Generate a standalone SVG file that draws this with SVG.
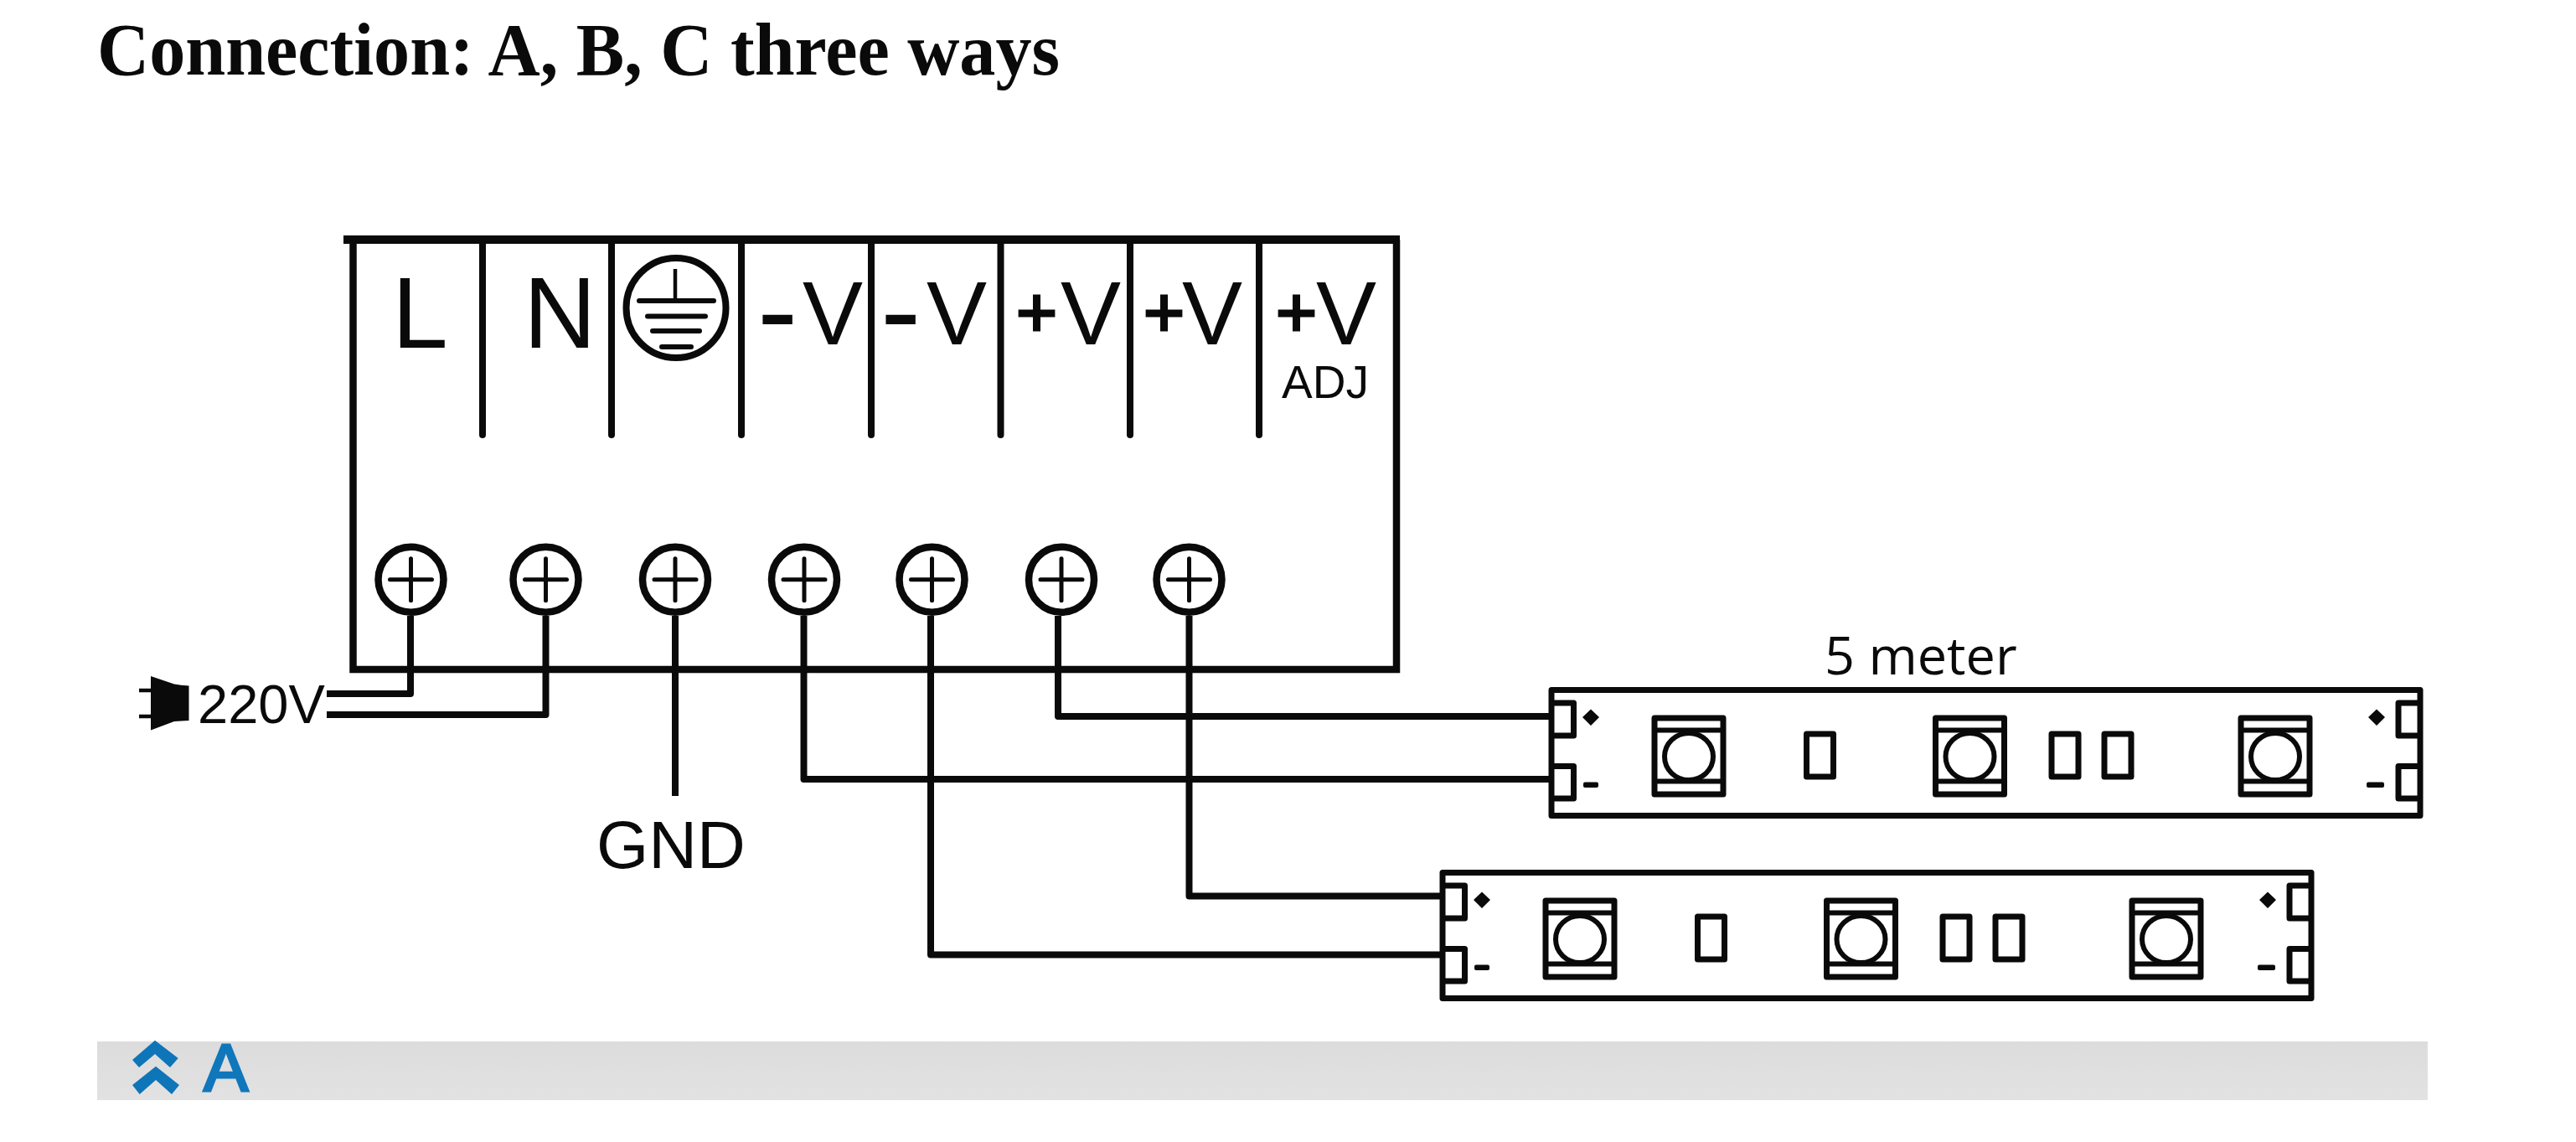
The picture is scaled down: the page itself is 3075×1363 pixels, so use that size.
<svg xmlns="http://www.w3.org/2000/svg" width="3075" height="1363" viewBox="0 0 3075 1363">
<style>
.t{font-family:"Liberation Sans",Arial,sans-serif;fill:#0a0a0a}
.w{fill:none;stroke:#0a0a0a;stroke-width:8;stroke-linejoin:round}
.d{stroke:#0a0a0a;stroke-width:8;stroke-linecap:round}
.o{fill:none;stroke:#0a0a0a;stroke-width:7;stroke-linejoin:round}
.l{fill:none;stroke:#0a0a0a;stroke-width:6;stroke-linejoin:round}
.k{fill:#0a0a0a}
.p{fill:#0a0a0a;stroke:#0a0a0a;stroke-width:3}
.s{fill:#fff;stroke:#0a0a0a;stroke-width:8.500}
.c{stroke:#0a0a0a;stroke-width:5;stroke-linecap:round}
.e{stroke:#0a0a0a;stroke-width:6;stroke-linecap:round}
</style>
<defs>
<g id="screw"><circle class="s" r="39"/><path class="c" d="M-25 0H25M0-25V25"/></g>
<g id="led"><rect class="o" x="-41" y="-46" width="82" height="91"/><path class="l" d="M-41-31.500H41M-41 29.500H41"/><ellipse class="l" cx="0" cy="0" rx="29" ry="28"/></g>
<g id="strip">
<rect class="o" x="1852" y="823.500" width="1037" height="150"/>
<path class="o" d="M1852 839H1878.500V878H1852M1852 914.500H1878.500V953H1852M2889 839H2863V878H2889M2889 914.500H2863V953H2889"/>
<path class="k" d="M1899 846.500L1909 856L1899 866L1889 856ZM2837 846.500L2847 856L2837 866L2827 856Z"/>
<rect class="k" x="1890" y="933.500" width="18" height="6.500" rx="2"/><rect class="k" x="2825" y="933.500" width="21" height="6.500" rx="2"/>
<use href="#led" x="2016" y="903"/><use href="#led" x="2351.500" y="903"/><use href="#led" x="2716" y="903"/>
<rect class="o" x="2156.500" y="876" width="32" height="51"/><rect class="o" x="2449" y="876" width="32" height="51"/><rect class="o" x="2512" y="876" width="32" height="51"/>
</g>
<linearGradient id="bar" x1="0" y1="0" x2="0" y2="1"><stop offset="0" stop-color="#dcdcdc"/><stop offset="1" stop-color="#e2e2e2"/></linearGradient>
</defs>
<rect width="3075" height="1363" fill="#fff"/>
<text id="title" x="116" y="89" font-family="'Liberation Serif','Times New Roman',serif" font-weight="700" font-size="89" textLength="1149" lengthAdjust="spacingAndGlyphs" fill="#0a0a0a">Connection: A, B, C three ways</text>
<g id="connectors">
<path class="w" d="M490 735V828H390"/>
<path class="w" d="M651.500 735V853H390"/>
<path class="w" d="M806 735V950"/>
<path class="w" d="M959.500 735V930H1852"/>
<path class="w" d="M1263 735V855H1852"/>
<path class="w" d="M1111 735V1139.500H1722"/>
<path class="w" d="M1419.500 735V1069.500H1722"/>
</g>
<g id="power-supply">
<path fill="none" stroke="#0a0a0a" stroke-width="8.500" d="M421.500 286V799H1667V286"/>
<path stroke="#0a0a0a" stroke-width="10" d="M410 286H1671"/>
<path class="d" d="M576 286V519M730 286V519M885 286V519M1040 286V519M1194.500 286V519M1349 286V519M1503 286V519"/>
<text class="t" x="468" y="415" font-size="120">L</text>
<text class="t" x="625" y="415" font-size="120">N</text>
<g id="earth"><circle fill="none" stroke="#0a0a0a" stroke-width="8" cx="807" cy="367.500" r="59.500"/><path stroke="#0a0a0a" stroke-width="4.500" d="M806 321V356"/><path class="e" d="M763 359H852M773 377.500H842M779 395H835M790 414H825"/></g>
<text class="t" y="411" font-size="108"><tspan x="904" y="420" font-size="145">-</tspan><tspan x="958" y="411">V</tspan></text>
<text class="t" y="411" font-size="108"><tspan x="1051" y="420" font-size="145">-</tspan><tspan x="1106" y="411">V</tspan></text>
<text class="t" y="411" font-size="108"><tspan class="p" x="1213" y="401" font-size="84">+</tspan><tspan x="1266" y="411">V</tspan></text>
<text class="t" y="411" font-size="108"><tspan class="p" x="1365" y="401" font-size="84">+</tspan><tspan x="1411" y="411">V</tspan></text>
<text class="t" y="411" font-size="108"><tspan class="p" x="1523" y="401" font-size="84">+</tspan><tspan x="1571" y="411">V</tspan></text>
<text class="t" x="1530" y="475" font-size="55">ADJ</text>
<use href="#screw" x="490.500" y="691.700"/><use href="#screw" x="651.500" y="691.700"/><use href="#screw" x="806" y="691.700"/><use href="#screw" x="960" y="691.700"/><use href="#screw" x="1112.500" y="691.700"/><use href="#screw" x="1267" y="691.700"/><use href="#screw" x="1419.500" y="691.700"/>
</g>
<g id="plug">
<path class="k" d="M180 807L208 816.500Q216 818 225.500 818.500V860Q216 860.500 208 861L180 871.500Z"/>
<path stroke="#0a0a0a" stroke-width="4.500" d="M166 824H180M166 855H180"/>
<text class="t" x="236" y="863" font-size="65">220V</text>
</g>
<text id="gnd" class="t" x="712" y="1036" font-size="80">GND</text>
<g id="strip-1"><use href="#strip"/><text x="2178" y="805" font-family="'Open Sans',sans-serif" font-size="63" fill="#0a0a0a">5 meter</text></g>
<g id="strip-2"><use href="#strip" x="-130" y="218"/></g>
<g id="section-a">
<rect x="116" y="1243" width="2782" height="70" fill="url(#bar)"/>
<path fill="#0e75b8" d="M158 1265L185 1241.700L212.700 1263L203 1274L185 1258L166 1274ZM158 1295L186 1272.700L214 1295L205 1306L186 1289L166.700 1306Z"/>
<text x="243" y="1302" font-family="'Liberation Sans',Arial,sans-serif" font-size="80" fill="#1077bb" stroke="#1077bb" stroke-width="3">A</text>
</g>
</svg>
